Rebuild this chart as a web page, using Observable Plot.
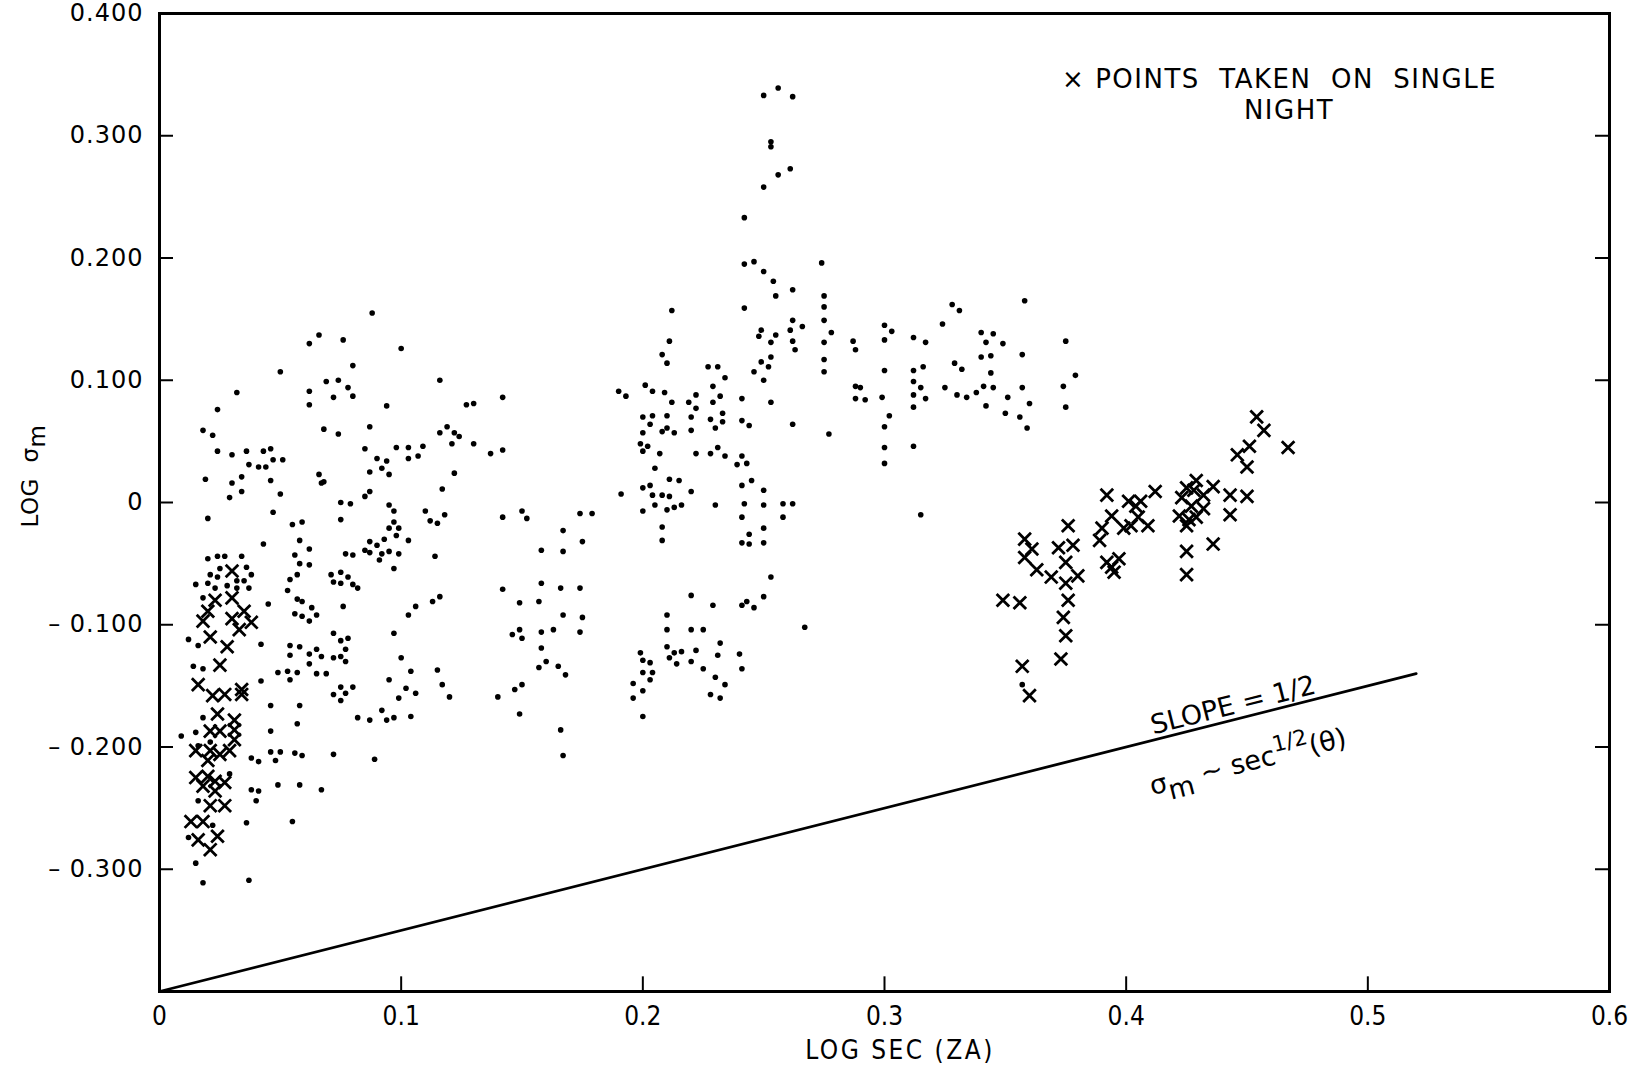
<!DOCTYPE html>
<html>
<head>
<meta charset="utf-8">
<script src="https://cdn.jsdelivr.net/npm/d3@7"></script>
<script src="https://cdn.jsdelivr.net/npm/@observablehq/plot@0.6"></script>
<style>
  body { margin: 0; background: #fff; }
  #chart { width: 1649px; height: 1067px; }
</style>
</head>
<body>
<div id="chart"></div>
<script>
// Scintillation measurements: log sigma_m against log sec(zenith angle), as [x, y] pairs.
// All observations, grouped by band of log sec(ZA).
const dotsNearZenith = [
  [0.032,0.090],[0.024,0.076],[0.018,0.059],[0.022,0.055],[0.024,0.042],[0.030,0.039],[0.036,0.042],
  [0.043,0.042],[0.046,0.044],[0.047,0.035],[0.051,0.035],[0.037,0.031],[0.041,0.029],[0.044,0.029],
  [0.019,0.019],[0.034,0.021],[0.030,0.016],[0.046,0.018],[0.029,0.004],[0.034,0.009],[0.050,0.007],
  [0.020,-0.013],[0.047,-0.008],[0.055,-0.018],[0.059,-0.016],[0.043,-0.034],[0.058,-0.031],[0.056,-0.043],
  [0.058,-0.050],[0.057,-0.059],[0.054,-0.063],[0.053,-0.072],[0.057,-0.079],[0.059,-0.081],[0.056,-0.091],
  [0.059,-0.093],[0.045,-0.083],[0.020,-0.046],[0.024,-0.044],[0.027,-0.044],[0.034,-0.044],[0.025,-0.054],
  [0.036,-0.053],[0.021,-0.059],[0.024,-0.061],[0.038,-0.059],[0.032,-0.064],[0.035,-0.064],[0.015,-0.067],
  [0.020,-0.066],[0.023,-0.070],[0.028,-0.068],[0.032,-0.070],[0.037,-0.070],[0.018,-0.078],[0.012,-0.112],
  [0.016,-0.117],[0.042,-0.116],[0.014,-0.134],[0.018,-0.136],[0.042,-0.146],[0.046,-0.166],[0.046,-0.187],
  [0.018,-0.176],[0.009,-0.191],[0.015,-0.188],[0.016,-0.199],[0.021,-0.196],[0.038,-0.209],[0.041,-0.212],
  [0.029,-0.222],[0.038,-0.235],[0.041,-0.236],[0.040,-0.244],[0.016,-0.244],[0.036,-0.262],[0.022,-0.264],
  [0.012,-0.274],[0.015,-0.295],[0.018,-0.311],[0.037,-0.309],[0.056,-0.205],[0.059,-0.207],[0.046,-0.204],
  [0.050,-0.204],[0.048,-0.211],[0.049,-0.231],[0.058,-0.231],[0.055,-0.261],[0.058,-0.166],[0.057,-0.181],
  [0.054,-0.117],[0.058,-0.118],[0.054,-0.125],[0.049,-0.139],[0.053,-0.138],[0.057,-0.139],[0.054,-0.145],
  [0.050,0.107]
];
const dotsLow = [
  [0.088,0.155],[0.066,0.137],[0.062,0.130],[0.076,0.133],[0.100,0.126],[0.080,0.112],[0.069,0.099],
  [0.074,0.100],[0.078,0.094],[0.080,0.087],[0.072,0.086],[0.062,0.091],[0.062,0.080],[0.116,0.100],
  [0.094,0.079],[0.068,0.060],[0.074,0.056],[0.087,0.062],[0.116,0.057],[0.119,0.062],[0.122,0.057],
  [0.124,0.054],[0.121,0.048],[0.085,0.044],[0.090,0.036],[0.094,0.034],[0.092,0.028],[0.087,0.025],
  [0.095,0.023],[0.098,0.045],[0.103,0.045],[0.109,0.046],[0.107,0.038],[0.103,0.036],[0.122,0.024],
  [0.066,0.023],[0.068,0.017],[0.067,0.016],[0.117,0.011],[0.085,0.005],[0.087,0.009],[0.075,0.000],
  [0.079,-0.001],[0.075,-0.014],[0.095,-0.002],[0.097,-0.007],[0.110,-0.007],[0.112,-0.015],[0.115,-0.017],
  [0.118,-0.010],[0.097,-0.016],[0.095,-0.021],[0.099,-0.021],[0.098,-0.027],[0.093,-0.030],[0.087,-0.032],
  [0.090,-0.035],[0.103,-0.031],[0.085,-0.039],[0.087,-0.041],[0.092,-0.042],[0.095,-0.040],[0.099,-0.042],
  [0.091,-0.047],[0.077,-0.042],[0.080,-0.043],[0.097,-0.054],[0.114,-0.044],[0.062,-0.038],[0.062,-0.051],
  [0.071,-0.059],[0.075,-0.057],[0.072,-0.065],[0.075,-0.066],[0.078,-0.061],[0.080,-0.067],[0.082,-0.070],
  [0.063,-0.086],[0.065,-0.092],[0.062,-0.097],[0.076,-0.085],[0.103,-0.092],[0.106,-0.085],[0.113,-0.081],
  [0.116,-0.077],[0.072,-0.107],[0.075,-0.113],[0.078,-0.111],[0.077,-0.120],[0.097,-0.107],[0.062,-0.124],
  [0.065,-0.120],[0.067,-0.126],[0.072,-0.127],[0.075,-0.126],[0.077,-0.130],[0.062,-0.132],[0.065,-0.140],
  [0.069,-0.140],[0.100,-0.127],[0.104,-0.138],[0.115,-0.137],[0.117,-0.149],[0.120,-0.159],[0.095,-0.145],
  [0.102,-0.152],[0.106,-0.156],[0.099,-0.160],[0.075,-0.151],[0.080,-0.151],[0.077,-0.156],[0.072,-0.157],
  [0.075,-0.162],[0.082,-0.176],[0.087,-0.178],[0.092,-0.170],[0.094,-0.178],[0.097,-0.176],[0.104,-0.175],
  [0.072,-0.206],[0.089,-0.210],[0.067,-0.235]
];
const dotsMid = [
  [0.127,0.080],[0.130,0.081],[0.142,0.086],[0.130,0.048],[0.137,0.040],[0.142,0.043],[0.142,-0.012],
  [0.150,-0.007],[0.152,-0.013],[0.174,-0.009],[0.179,-0.009],[0.167,-0.023],[0.175,-0.032],[0.158,-0.039],
  [0.167,-0.040],[0.142,-0.071],[0.149,-0.082],[0.157,-0.081],[0.158,-0.066],[0.166,-0.070],[0.174,-0.070],
  [0.167,-0.092],[0.175,-0.094],[0.146,-0.108],[0.149,-0.104],[0.150,-0.111],[0.158,-0.106],[0.163,-0.104],
  [0.174,-0.106],[0.158,-0.119],[0.157,-0.135],[0.160,-0.130],[0.165,-0.134],[0.168,-0.141],[0.140,-0.159],
  [0.147,-0.153],[0.150,-0.149],[0.149,-0.173],[0.166,-0.186],[0.167,-0.207]
];
const dotsHigh = [
  [0.254,0.181],[0.262,0.174],[0.255,0.169],[0.212,0.157],[0.242,0.159],[0.262,0.149],[0.261,0.141],
  [0.262,0.132],[0.263,0.125],[0.249,0.141],[0.248,0.136],[0.255,0.137],[0.253,0.131],[0.253,0.119],
  [0.249,0.115],[0.252,0.111],[0.246,0.107],[0.250,0.100],[0.211,0.132],[0.208,0.121],[0.210,0.114],
  [0.227,0.111],[0.231,0.111],[0.234,0.102],[0.229,0.095],[0.222,0.088],[0.232,0.087],[0.219,0.082],
  [0.229,0.082],[0.241,0.085],[0.253,0.082],[0.262,0.064],[0.190,0.091],[0.193,0.087],[0.201,0.096],
  [0.204,0.091],[0.209,0.090],[0.212,0.082],[0.200,0.070],[0.204,0.071],[0.210,0.071],[0.203,0.064],
  [0.200,0.057],[0.208,0.058],[0.210,0.061],[0.213,0.057],[0.222,0.077],[0.220,0.070],[0.220,0.059],
  [0.228,0.068],[0.233,0.073],[0.233,0.066],[0.230,0.061],[0.241,0.067],[0.244,0.063],[0.199,0.048],
  [0.200,0.042],[0.202,0.046],[0.207,0.040],[0.222,0.040],[0.228,0.040],[0.231,0.045],[0.234,0.038],
  [0.241,0.038],[0.239,0.031],[0.243,0.032],[0.205,0.028],[0.211,0.019],[0.215,0.018],[0.191,0.007],
  [0.200,0.012],[0.203,0.014],[0.204,0.006],[0.208,0.006],[0.211,0.005],[0.205,-0.002],[0.210,-0.006],
  [0.213,-0.004],[0.216,-0.002],[0.200,-0.007],[0.220,0.009],[0.230,-0.002],[0.208,-0.020],[0.208,-0.031],
  [0.241,0.014],[0.245,0.018],[0.250,0.010],[0.242,-0.001],[0.250,-0.002],[0.258,-0.001],[0.262,-0.001],
  [0.241,-0.012],[0.258,-0.012],[0.250,-0.021],[0.244,-0.026],[0.241,-0.033],[0.244,-0.034],[0.250,-0.033],
  [0.253,-0.061],[0.220,-0.076],[0.229,-0.084],[0.241,-0.084],[0.243,-0.081],[0.246,-0.086],[0.250,-0.077],
  [0.210,-0.092],[0.210,-0.104],[0.220,-0.104],[0.225,-0.104],[0.232,-0.115],[0.231,-0.125],[0.222,-0.121],
  [0.216,-0.122],[0.213,-0.123],[0.210,-0.118],[0.211,-0.127],[0.214,-0.132],[0.220,-0.130],[0.240,-0.124],
  [0.241,-0.136],[0.199,-0.123],[0.200,-0.129],[0.203,-0.131],[0.200,-0.139],[0.204,-0.139],[0.203,-0.145],
  [0.196,-0.148],[0.200,-0.154],[0.196,-0.160],[0.200,-0.175],[0.225,-0.136],[0.230,-0.143],[0.234,-0.149],
  [0.228,-0.157],[0.232,-0.160],
  [0.256,0.339],[0.250,0.333],[0.262,0.332],[0.253,0.295],[0.253,0.291],[0.261,0.273],[0.256,0.268],
  [0.250,0.258],[0.242,0.233],[0.242,0.195],[0.246,0.197],[0.250,0.189],[0.266,0.144]
];
const dotsFar = [
  [0.274,0.196],[0.275,0.169],[0.275,0.160],[0.275,0.149],[0.278,0.139],[0.275,0.131],[0.275,0.117],
  [0.275,0.107],[0.287,0.132],[0.288,0.125],[0.288,0.095],[0.290,0.094],[0.288,0.085],[0.292,0.084],
  [0.277,0.056],[0.300,0.145],[0.303,0.140],[0.300,0.133],[0.300,0.108],[0.299,0.086],[0.302,0.071],
  [0.300,0.062],[0.300,0.045],[0.300,0.032],[0.312,0.135],[0.317,0.131],[0.312,0.108],[0.316,0.111],
  [0.312,0.099],[0.315,0.094],[0.312,0.088],[0.317,0.085],[0.312,0.078],[0.312,0.046],[0.328,0.162],
  [0.331,0.157],[0.324,0.146],[0.329,0.114],[0.332,0.109],[0.325,0.094],[0.330,0.088],[0.334,0.086],
  [0.338,0.090],[0.340,0.139],[0.345,0.138],[0.342,0.131],[0.349,0.130],[0.340,0.119],[0.344,0.120],
  [0.344,0.106],[0.341,0.095],[0.345,0.094],[0.342,0.079],[0.351,0.086],[0.350,0.073],[0.356,0.070],
  [0.359,0.061],[0.357,0.121],[0.357,0.094],[0.360,0.081],[0.358,0.165],[0.375,0.132],[0.379,0.104],
  [0.374,0.095],[0.375,0.078],[0.315,-0.010],[0.267,-0.102],[0.357,-0.149]
];
// Points taken on a single night (drawn as crosses).
const singleNight = [
  [0.030,-0.056],[0.023,-0.080],[0.030,-0.078],[0.020,-0.089],[0.035,-0.089],[0.018,-0.097],[0.030,-0.095],
  [0.038,-0.098],[0.033,-0.104],[0.021,-0.110],[0.028,-0.118],[0.025,-0.133],[0.016,-0.149],[0.022,-0.158],
  [0.027,-0.157],[0.034,-0.153],[0.034,-0.157],[0.024,-0.173],[0.031,-0.178],[0.021,-0.187],[0.025,-0.187],
  [0.031,-0.186],[0.031,-0.194],[0.015,-0.203],[0.021,-0.203],[0.029,-0.203],[0.025,-0.206],[0.020,-0.211],
  [0.015,-0.225],[0.020,-0.224],[0.023,-0.228],[0.027,-0.229],[0.018,-0.232],[0.023,-0.236],[0.021,-0.248],
  [0.027,-0.248],[0.013,-0.261],[0.018,-0.261],[0.016,-0.276],[0.024,-0.273],[0.021,-0.284],
  [0.454,0.070],[0.457,0.059],[0.467,0.045],[0.446,0.039],[0.451,0.046],[0.450,0.029],[0.443,0.006],
  [0.450,0.005],[0.443,-0.010],[0.436,0.013],[0.429,0.018],[0.425,0.012],[0.428,0.010],[0.432,0.006],
  [0.423,0.004],[0.427,-0.003],[0.432,-0.005],[0.422,-0.011],[0.426,-0.014],[0.429,-0.012],[0.425,-0.019],
  [0.436,-0.034],[0.425,-0.040],[0.425,-0.059],[0.412,0.009],[0.406,0.001],[0.401,0.001],[0.404,-0.003],
  [0.409,-0.019],[0.402,-0.019],[0.405,-0.012],[0.399,-0.021],[0.394,-0.011],[0.392,0.006],[0.390,-0.021],
  [0.389,-0.031],[0.392,-0.049],[0.397,-0.046],[0.395,-0.057],[0.394,-0.053],[0.376,-0.019],[0.378,-0.035],
  [0.372,-0.037],[0.375,-0.049],[0.369,-0.061],[0.375,-0.066],[0.380,-0.060],[0.376,-0.080],[0.374,-0.094],
  [0.375,-0.109],[0.373,-0.128],[0.358,-0.030],[0.361,-0.038],[0.358,-0.045],[0.363,-0.055],[0.349,-0.080],
  [0.356,-0.082],[0.357,-0.134],[0.360,-0.158]
];
// Reference line of slope 1/2 (sigma_m ~ sec^(1/2)), endpoints.
const slopeLine = [[0, -0.4], [0.52, -0.14]];

// Axes
const xTicks = [0, 0.1, 0.2, 0.3, 0.4, 0.5, 0.6];
const xTickLabels = ["0", "0.1", "0.2", "0.3", "0.4", "0.5", "0.6"];
const yTicks = [0.4, 0.3, 0.2, 0.1, 0, -0.1, -0.2, -0.3];
const yTickLabels = ["0.400", "0.300", "0.200", "0.100", "0", "\u2013 0.100", "\u2013 0.200", "\u2013 0.300"];
const xInnerTicks = [0.1, 0.2, 0.3, 0.4, 0.5];
const yInnerTicks = [0.3, 0.2, 0.1, 0, -0.1, -0.2, -0.3];

// Annotation anchors (data units)
const legendLines = [
  {x: 0.3737, y: 0.3467, text: "\u00d7 POINTS  TAKEN  ON  SINGLE", anchor: "start"},
  {x: 0.4676, y: 0.3210, text: "NIGHT", anchor: "middle"}
];
const slopeLabel = {x: 0.4443, y: -0.1655};
const lawLabel = {x: 0.4505, y: -0.2120};

const toPts = (arr) => arr.map(([x, y]) => ({x, y}));
const allDots = toPts([...dotsNearZenith, ...dotsLow, ...dotsMid, ...dotsHigh, ...dotsFar]);
const nightPts = toPts(singleNight);
const linePts = toPts(slopeLine);

const xLab = new Map(xTicks.map((t, i) => [t, xTickLabels[i]]));
const yLab = new Map(yTicks.map((t, i) => [t, yTickLabels[i]]));
const tickLen = {x: 0.0058, y: 0.012};

const chart = Plot.plot({
  width: 1649,
  height: 1067,
  marginLeft: 159,
  marginRight: 40,
  marginTop: 13,
  marginBottom: 76,
  x: {domain: [0, 0.6]},
  y: {domain: [-0.4, 0.4]},
  style: {background: "#fff", color: "#000", fontFamily: "DejaVu Sans"},
  marks: [
    Plot.ruleY(yInnerTicks, {y: d => d, x1: 0, x2: tickLen.x, stroke: "#000", strokeWidth: 2}),
    Plot.ruleY(yInnerTicks, {y: d => d, x1: 0.6 - tickLen.x, x2: 0.6, stroke: "#000", strokeWidth: 2}),
    Plot.ruleX(xInnerTicks, {x: d => d, y1: -0.4, y2: -0.4 + tickLen.y, stroke: "#000", strokeWidth: 2}),
    Plot.line(linePts, {x: "x", y: "y", stroke: "#000", strokeWidth: 2.8}),
    Plot.dot(allDots, {x: "x", y: "y", r: 2.8, fill: "#000", stroke: "none"}),
    Plot.dot(nightPts, {x: "x", y: "y", symbol: "times", r: 5.8, stroke: "#000", strokeWidth: 2.8}),
    Plot.frame({stroke: "#000", strokeWidth: 3}),
    Plot.axisY(yTicks, {anchor: "left", tickSize: 0, tickPadding: 16, tickFormat: d => yLab.get(d), label: null}),
    Plot.axisX(xTicks, {anchor: "bottom", tickSize: 0, tickPadding: 15, tickFormat: d => xLab.get(d), label: null})
  ]
});

document.getElementById("chart").appendChild(chart);

const svg = d3.select(chart);
svg.selectAll('[aria-label="y-axis tick label"] text')
  .style("font-family", "DejaVu Sans")
  .style("font-size", "24px")
  .style("letter-spacing", "1px");
svg.selectAll('[aria-label="x-axis tick label"] text')
  .style("font-family", "'DejaVu Sans Condensed', 'DejaVu Sans'")
  .style("font-stretch", "condensed")
  .style("font-size", "26px");

const sx = chart.scale("x"), sy = chart.scale("y");
const X = v => sx.apply(v), Y = v => sy.apply(v);

// Builds a text element from parts: {t, sub, sup, size}
function richText(parent, parts, attrs) {
  const t = parent.append("text");
  Object.entries(attrs).forEach(([k, v]) => t.attr(k, v));
  parts.forEach(p => {
    const s = t.append("tspan").text(p.t);
    if (p.size) s.attr("font-size", p.size);
    if (p.sub) s.attr("baseline-shift", p.sub);
    if (p.sup) s.attr("baseline-shift", p.sup);
  });
  return t;
}

const ann = svg.append("g").attr("fill", "#000").attr("font-family", "DejaVu Sans");

// Legend
legendLines.forEach(l => {
  ann.append("text")
    .attr("x", X(l.x)).attr("y", Y(l.y)).attr("dy", "0.36em")
    .attr("text-anchor", l.anchor)
    .attr("font-size", 26).attr("letter-spacing", "1.5px")
    .text(l.text);
});

// Slope annotations, aligned with the reference line
const [p0, p1] = linePts;
const angle = Math.atan2(Y(p1.y) - Y(p0.y), X(p1.x) - X(p0.x)) * 180 / Math.PI;
ann.append("text")
  .attr("transform", `translate(${X(slopeLabel.x)},${Y(slopeLabel.y)}) rotate(${angle})`)
  .attr("dy", "0.36em").attr("text-anchor", "middle").attr("font-size", 27)
  .text("SLOPE = 1/2");
richText(ann, [
  {t: "\u03c3"},
  {t: "m", sub: "-9px"},
  {t: " ~ sec"},
  {t: "1/2", sup: "12px", size: 22},
  {t: "(\u03b8)"}
], {
  transform: `translate(${X(lawLabel.x)},${Y(lawLabel.y)}) rotate(${angle})`,
  dy: "0.36em", "text-anchor": "middle", "font-size": 27
});

// Axis titles
richText(ann, [
  {t: "LOG  \u03c3"},
  {t: "m", sub: "-7px"}
], {
  transform: `translate(30,476) rotate(-90)`,
  dy: "0.36em", "text-anchor": "middle", "font-size": 23, "letter-spacing": "0.5px"
});
ann.append("text")
  .attr("x", 900).attr("y", 1050).attr("dy", "0.36em")
  .attr("text-anchor", "middle")
  .attr("font-family", "'DejaVu Sans Condensed', 'DejaVu Sans'")
  .attr("font-stretch", "condensed")
  .attr("font-size", 26)
  .attr("letter-spacing", "2.5px")
  .text("LOG SEC (ZA)");
</script>
</body>
</html>
